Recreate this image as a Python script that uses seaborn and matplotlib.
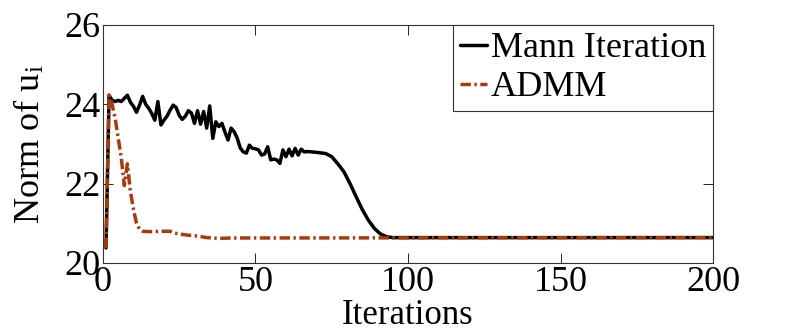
import numpy as np
import pandas as pd
import seaborn as sns
import matplotlib.pyplot as plt

# Mann iteration (iteration, norm)
mann_it = [1, 2, 3, 4, 5, 6, 7, 8, 9, 10, 11, 12, 13, 14, 15, 16, 17, 18, 19, 20,
           21, 22, 23, 24, 25, 26, 27, 28, 29, 30, 31, 32, 33, 34, 35, 36, 37, 38, 39, 40,
           41, 42, 43, 44, 45, 46, 47, 48, 49, 50, 51, 52, 53, 54, 55, 56, 57, 58, 59, 60,
           61, 62, 63, 64, 65, 66, 67, 70, 73, 75, 77, 79, 81, 83, 85, 87, 89, 91, 93, 95, 200]
mann_val = [20.38, 24.23, 24.10, 24.07, 24.10, 24.07, 24.15, 24.23, 24.05, 23.95,
            23.80, 23.98, 24.20, 24.00, 23.90, 23.77, 23.60, 24.07, 23.48, 23.60,
            23.70, 23.85, 23.98, 23.92, 23.72, 23.62, 23.70, 23.84, 23.78, 23.52,
            23.84, 23.50, 23.82, 23.40, 23.96, 23.14, 23.56, 23.44, 23.52, 23.30,
            23.10, 23.40, 23.31, 23.15, 22.90, 22.80, 22.77, 22.97, 22.89, 22.88,
            22.85, 22.72, 22.75, 22.93, 22.60, 22.62, 22.60, 22.51, 22.85, 22.68,
            22.87, 22.70, 22.89, 22.72, 22.87, 22.80, 22.81, 22.79, 22.76, 22.68,
            22.50, 22.30, 22.00, 21.67, 21.35, 21.08, 20.87, 20.73, 20.66, 20.64, 20.64]

# ADMM (iteration, norm)
admm_it = [1, 2, 3, 4, 5, 6, 7, 8, 9, 10, 11, 12, 13, 15, 20, 22, 23, 25, 28, 31, 34, 38, 42, 200]
admm_val = [20.38, 24.23, 24.00, 23.65, 23.15, 22.65, 21.95, 22.50, 21.80, 21.35,
            21.00, 20.85, 20.80, 20.79, 20.80, 20.80, 20.76, 20.73, 20.70, 20.68,
            20.64, 20.62, 20.63, 20.64]

mann = pd.DataFrame({"Iterations": mann_it, "Norm": mann_val})
admm = pd.DataFrame({"Iterations": admm_it, "Norm": admm_val})

sns.set_style("ticks")
plt.rcParams['font.family'] = ['Liberation Serif', 'DejaVu Serif']
plt.rcParams['mathtext.fontset'] = 'stix'
for k in ['text.color', 'axes.labelcolor', 'xtick.color', 'ytick.color']:
    plt.rcParams[k] = 'black'

fig = plt.figure(figsize=(7.89, 3.36), dpi=100)
ax = fig.add_axes([0.1305, 0.2173, 0.7732, 0.7083])

sns.lineplot(data=mann, x="Iterations", y="Norm", ax=ax, color="black",
             linewidth=2.5, label="Mann Iteration")
sns.lineplot(data=admm, x="Iterations", y="Norm", ax=ax, color="#A83A0C",
             linewidth=2.5, linestyle=(0, (3, 1, 0.7, 1)), label="ADMM")

ax.set_xlim(0, 200)
ax.set_ylim(20, 26)
ax.set_xticks([0, 50, 100, 150, 200])
ax.set_yticks([20, 22, 24, 26])
ax.tick_params(direction="in", length=7, width=0.6, labelsize=26, pad=2,
               top=True, right=True)
for s in ax.spines.values():
    s.set_linewidth(0.8)
    s.set_color("#333333")
ax.set_xlabel("Iterations", fontsize=25, labelpad=0)
ax.set_ylabel(r"Norm of u$_{\mathregular{i}}$", fontsize=26, labelpad=12)

leg = ax.legend(loc="upper right", fontsize=26, frameon=True, fancybox=False,
                borderaxespad=0, borderpad=0.2, handlelength=0.75,
                handletextpad=0.1, labelspacing=0.15)
leg.get_frame().set_edgecolor("#333333")
leg.get_frame().set_linewidth(0.8)
leg.get_frame().set_alpha(1)

fig.savefig("out.png", dpi=100)
